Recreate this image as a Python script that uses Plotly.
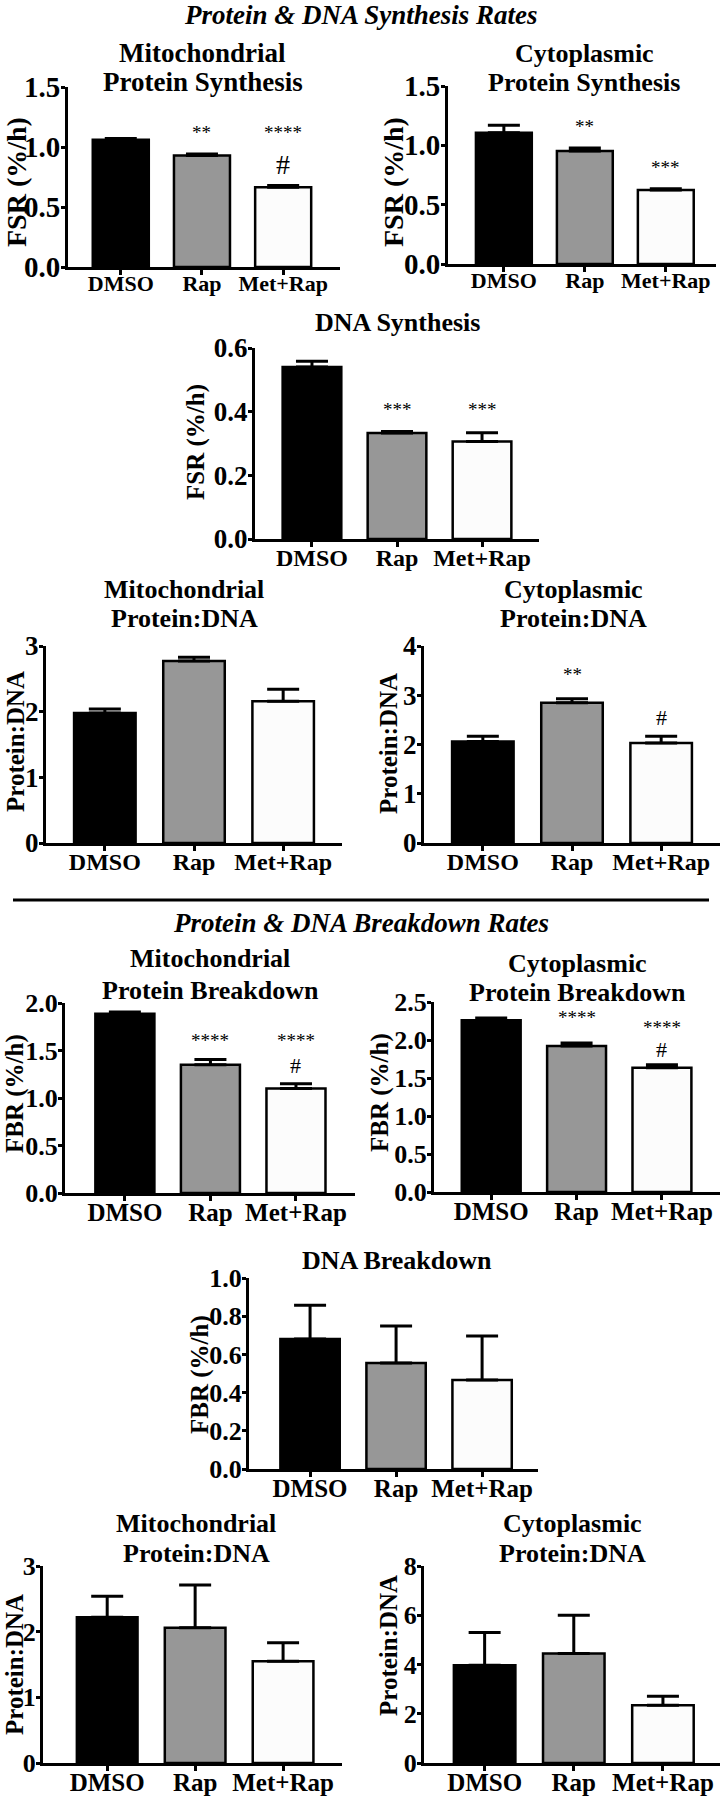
import plotly.graph_objects as go

W, H = 722, 1798
FONT = "Liberation Serif, Times New Roman, serif"

# ---------------- data ----------------
groups = ["DMSO", "Rap", "Met+Rap"]
bar_colors = ["#000000", "#979797", "#fcfcfc"]

mito_syn = [1.06, 0.93, 0.665]
mito_syn_err = [0.01, 0.012, 0.015]
cyto_syn = [1.105, 0.952, 0.623]
cyto_syn_err = [0.065, 0.025, 0.012]
dna_syn = [0.540, 0.333, 0.306]
dna_syn_err = [0.018, 0.005, 0.028]
mito_pd_syn = [1.98, 2.77, 2.16]
mito_pd_syn_err = [0.06, 0.06, 0.18]
cyto_pd_syn = [2.06, 2.85, 2.03]
cyto_pd_syn_err = [0.11, 0.08, 0.14]

mito_brk = [1.886, 1.35, 1.10]
mito_brk_err = [0.02, 0.055, 0.05]
cyto_brk = [2.26, 1.92, 1.635]
cyto_brk_err = [0.03, 0.04, 0.04]
dna_brk = [0.68, 0.555, 0.466]
dna_brk_err = [0.177, 0.194, 0.23]
mito_pd_brk = [2.22, 2.06, 1.55]
mito_pd_brk_err = [0.32, 0.65, 0.28]
cyto_pd_brk = [3.97, 4.45, 2.35]
cyto_pd_brk_err = [1.33, 1.55, 0.36]

# significance marks: (group, text, y in data units)
sig1 = [("Rap", "**", 1.142), ("Met+Rap", "****", 1.142), ("Met+Rap", "#", 0.85)]
sig2 = [("Rap", "**", 1.188), ("Met+Rap", "***", 0.842)]
sig3 = [("Rap", "***", 0.416), ("Met+Rap", "***", 0.416)]
sig4 = [("Rap", "*", 3.05)]
sig5 = [("Rap", "**", 3.48), ("Met+Rap", "#", 2.54)]
sig6 = [("Rap", "****", 1.637), ("Met+Rap", "****", 1.637), ("Met+Rap", "#", 1.343)]
sig7 = [("Rap", "****", 2.34), ("Met+Rap", "****", 2.21), ("Met+Rap", "#", 1.88)]

section_titles = ["Protein & DNA Synthesis Rates", "Protein & DNA Breakdown Rates"]

# ---------------- layout spec per panel ----------------
panels = [
    dict(v=mito_syn, e=mito_syn_err, sig=sig1, title=["Mitochondrial", "Protein Synthesis"],
         tpos=(203, [53, 82]), tfs=27, ylab="FSR (%/h)", ylpos=(16, 182), ylfs=28,
         xd=(68, 340), yd=(267, 87), ymax=1.5, dt=0.5, fmt=".1f", xr=(-0.65, 2.7),
         ytfs=29, xtfs=22, hfs=28),
    dict(v=cyto_syn, e=cyto_syn_err, sig=sig2, title=["Cytoplasmic", "Protein Synthesis"],
         tpos=(584, [53, 82]), tfs=26, ylab="FSR (%/h)", ylpos=(393, 182), ylfs=28,
         xd=(448, 716), yd=(264, 86), ymax=1.5, dt=0.5, fmt=".1f", xr=(-0.69, 2.62),
         ytfs=29, xtfs=22, hfs=22),
    dict(v=dna_syn, e=dna_syn_err, sig=sig3, title=["DNA Synthesis"],
         tpos=(397, [323]), tfs=26, ylab="FSR (%/h)", ylpos=(196, 442), ylfs=25,
         xd=(255, 539), yd=(539, 348), ymax=0.6, dt=0.2, fmt=".1f", xr=(-0.67, 2.67),
         ytfs=27, xtfs=24, hfs=22),
    dict(v=mito_pd_syn, e=mito_pd_syn_err, sig=sig4, title=["Mitochondrial", "Protein:DNA"],
         tpos=(184, [589, 618]), tfs=26, ylab="Protein:DNA", ylpos=(15, 742), ylfs=25,
         xd=(46, 342), yd=(843, 646), ymax=3, dt=1, fmt="d", xr=(-0.66, 2.66),
         ytfs=27, xtfs=24, hfs=22),
    dict(v=cyto_pd_syn, e=cyto_pd_syn_err, sig=sig5, title=["Cytoplasmic", "Protein:DNA"],
         tpos=(573, [589, 618]), tfs=26, ylab="Protein:DNA", ylpos=(389, 744), ylfs=25,
         xd=(424, 720), yd=(843, 646), ymax=4, dt=1, fmt="d", xr=(-0.66, 2.66),
         ytfs=27, xtfs=24, hfs=22),
    dict(v=mito_brk, e=mito_brk_err, sig=sig6, title=["Mitochondrial", "Protein Breakdown"],
         tpos=(210, [958, 990]), tfs=26, ylab="FBR (%/h)", ylpos=(15, 1094), ylfs=25,
         xd=(65, 355), yd=(1193, 1003), ymax=2.0, dt=0.5, fmt=".1f", xr=(-0.70, 2.69),
         ytfs=26, xtfs=25, hfs=22),
    dict(v=cyto_brk, e=cyto_brk_err, sig=sig7, title=["Cytoplasmic", "Protein Breakdown"],
         tpos=(577, [963, 993]), tfs=26, ylab="FBR (%/h)", ylpos=(380, 1093), ylfs=25,
         xd=(434, 720), yd=(1192, 1002), ymax=2.5, dt=0.5, fmt=".1f", xr=(-0.67, 2.68),
         ytfs=26, xtfs=25, hfs=22),
    dict(v=dna_brk, e=dna_brk_err, sig=[], title=["DNA Breakdown"],
         tpos=(397, [1260]), tfs=26, ylab="FBR (%/h)", ylpos=(200, 1375), ylfs=25,
         xd=(249, 538), yd=(1469, 1278), ymax=1.0, dt=0.2, fmt=".1f", xr=(-0.71, 2.65),
         ytfs=26, xtfs=25, hfs=22),
    dict(v=mito_pd_brk, e=mito_pd_brk_err, sig=[], title=["Mitochondrial", "Protein:DNA"],
         tpos=(196, [1523, 1553]), tfs=26, ylab="Protein:DNA", ylpos=(14, 1665), ylfs=25,
         xd=(43, 342), yd=(1763, 1566), ymax=3, dt=1, fmt="d", xr=(-0.73, 2.67),
         ytfs=26, xtfs=25, hfs=22),
    dict(v=cyto_pd_brk, e=cyto_pd_brk_err, sig=[], title=["Cytoplasmic", "Protein:DNA"],
         tpos=(572, [1523, 1553]), tfs=26, ylab="Protein:DNA", ylpos=(388, 1646), ylfs=25,
         xd=(424, 720), yd=(1763, 1566), ymax=8, dt=2, fmt="d", xr=(-0.68, 2.64),
         ytfs=26, xtfs=25, hfs=22),
]


def px(xp):
    return xp / W


def py(yp):
    return 1 - yp / H


fig = go.Figure()
annotations = []
layout_axes = {}

for i, p in enumerate(panels, start=1):
    sx = "" if i == 1 else str(i)
    fig.add_trace(go.Bar(
        x=groups, y=p["v"], xaxis="x" + sx, yaxis="y" + sx, width=0.69,
        marker=dict(color=bar_colors, line=dict(color="black", width=2.5)),
        error_y=dict(type="data", array=p["e"], arrayminus=[0] * len(p["e"]),
                     symmetric=False, color="black", thickness=3, width=16),
        showlegend=False, hoverinfo="skip",
    ))
    layout_axes["xaxis" + sx] = dict(
        domain=[px(p["xd"][0]), px(p["xd"][1])], anchor="y" + sx,
        type="category", range=list(p["xr"]), automargin=False,
        showline=True, linecolor="black", linewidth=3, mirror=False,
        ticks="outside", ticklen=5, tickwidth=3, tickcolor="black",
        ticklabelstandoff=-10,
        tickfont=dict(family=FONT, size=p["xtfs"], color="black", weight="bold"),
        showgrid=False, zeroline=False, fixedrange=True,
    )
    layout_axes["yaxis" + sx] = dict(
        domain=[py(p["yd"][0]), py(p["yd"][1])], anchor="x" + sx,
        range=[0, p["ymax"]], tick0=0, dtick=p["dt"], tickformat=p["fmt"],
        automargin=False,
        showline=True, linecolor="black", linewidth=3,
        ticks="outside", ticklen=4, tickwidth=3, tickcolor="black",
        ticklabelstandoff=-5,
        tickfont=dict(family=FONT, size=p["ytfs"], color="black", weight="bold"),
        showgrid=False, zeroline=False, fixedrange=True,
    )
    # panel title lines
    cx, ys = p["tpos"]
    for line, yy in zip(p["title"], ys):
        annotations.append(dict(
            text=line, x=px(cx), y=py(yy), xref="paper", yref="paper",
            xanchor="center", yanchor="middle", showarrow=False,
            font=dict(family=FONT, size=p["tfs"], color="black", weight="bold"),
        ))
    # y-axis label
    annotations.append(dict(
        text=p["ylab"], x=px(p["ylpos"][0]), y=py(p["ylpos"][1]),
        xref="paper", yref="paper", xanchor="center", yanchor="middle",
        textangle=-90, showarrow=False,
        font=dict(family=FONT, size=p["ylfs"], color="black", weight="bold"),
    ))
    # significance marks
    for g, txt, yv in p["sig"]:
        is_hash = txt == "#"
        annotations.append(dict(
            text=txt, x=g, y=yv, xref="x" + sx, yref="y" + sx,
            xanchor="center", yanchor="middle", showarrow=False,
            yshift=0 if is_hash else -3,
            font=dict(family=FONT, size=p["hfs"] if is_hash else 19,
                      color="black", weight="normal"),
        ))

# section titles
for txt, yy in zip(section_titles, [15, 923]):
    annotations.append(dict(
        text=txt, x=px(361), y=py(yy), xref="paper", yref="paper",
        xanchor="center", yanchor="middle", showarrow=False,
        font=dict(family=FONT, size=27, color="black", weight="bold", style="italic"),
    ))

fig.update_layout(
    width=W, height=H, autosize=False,
    margin=dict(l=0, r=0, t=0, b=0, pad=0, autoexpand=False),
    paper_bgcolor="white", plot_bgcolor="white",
    font=dict(family=FONT, color="black"),
    bargap=0.3, showlegend=False,
    annotations=annotations,
    shapes=[dict(type="line", xref="paper", yref="paper",
                 x0=px(13), x1=px(709), y0=py(900), y1=py(900),
                 line=dict(color="black", width=3))],
    **layout_axes,
)

fig.write_html("out.html", config={"displayModeBar": False},
               post_script="document.body.style.margin='0px';")
